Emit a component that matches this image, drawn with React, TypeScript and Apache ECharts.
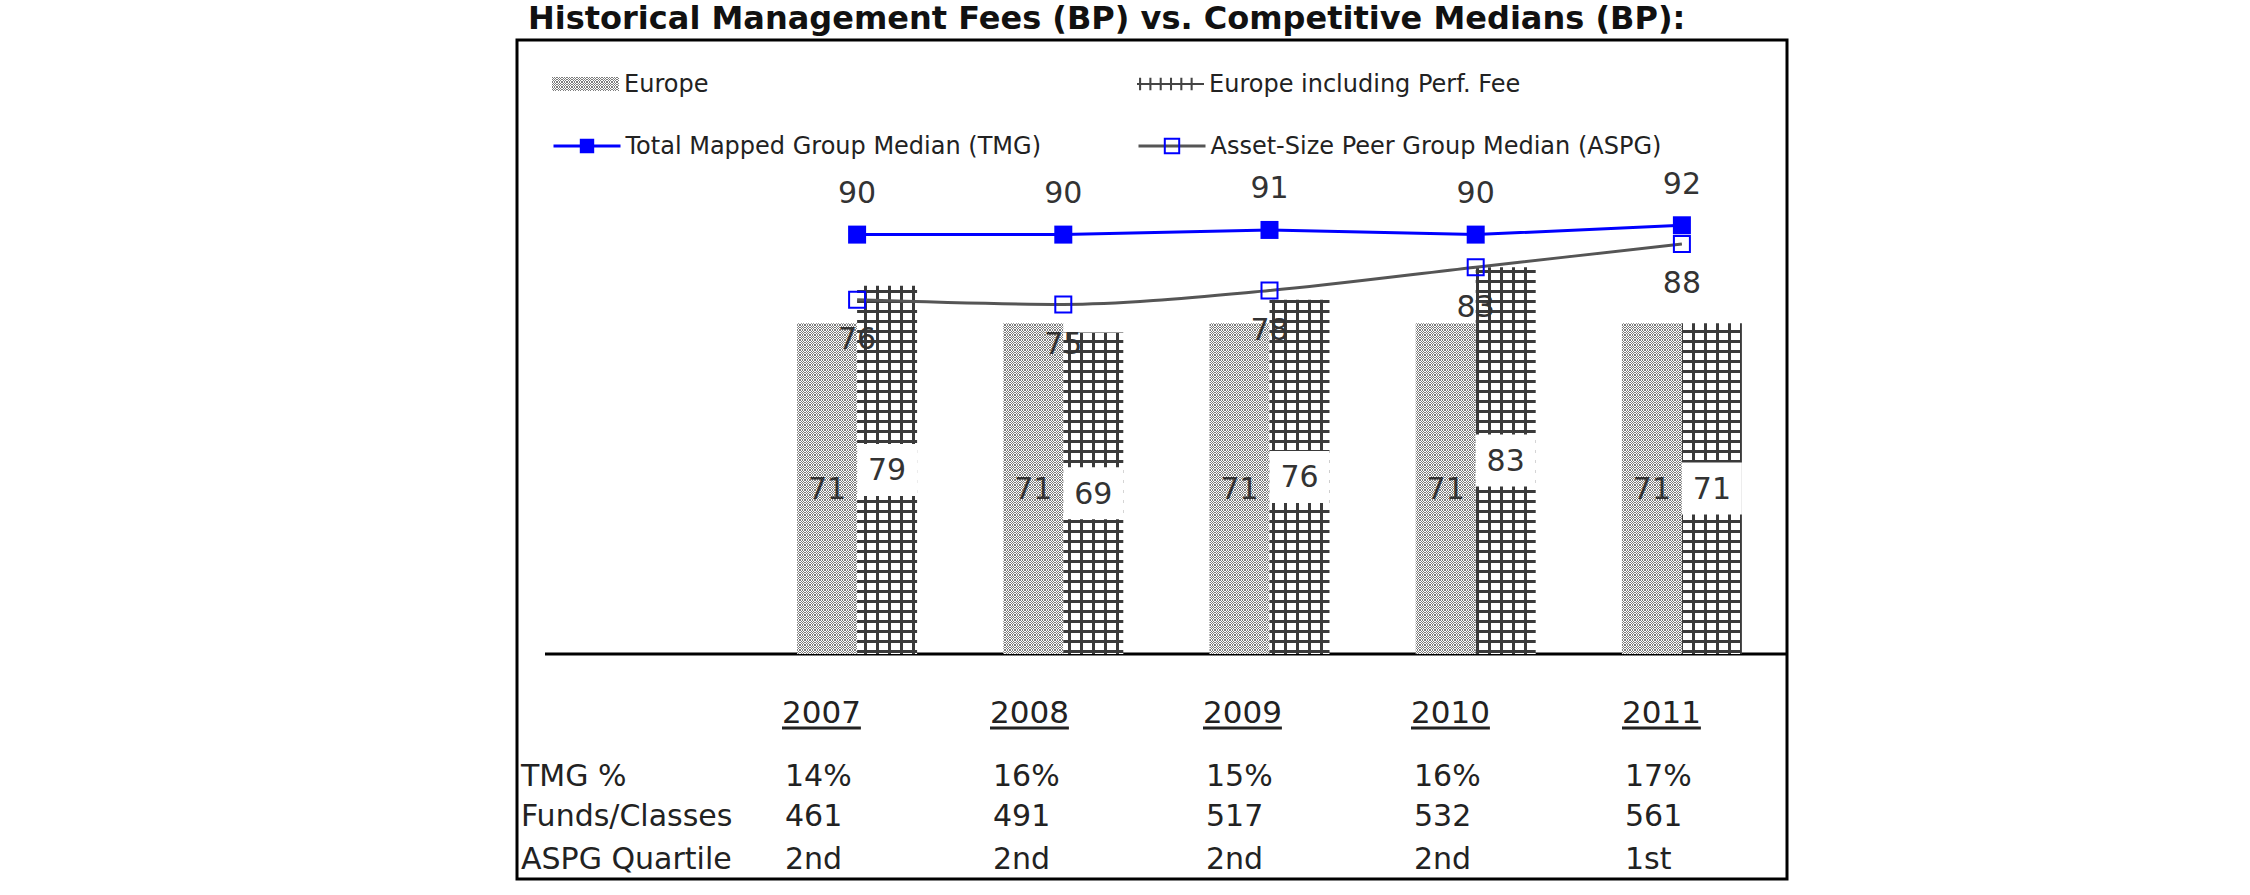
import React, { useEffect, useRef } from 'react';
import * as echarts from 'echarts';

// ---- data ----
const years = ['2007', '2008', '2009', '2010', '2011'];
const europe = [71, 71, 71, 71, 71];
const europePerf = [79, 69, 76, 83, 71];
const tmgMedian = [90, 90, 91, 90, 92];
const aspgMedian = [76, 75, 78, 83, 88];
const rowLabels = ['TMG %', 'Funds/Classes', 'ASPG Quartile'];
const tmgPct = ['14%', '16%', '15%', '16%', '17%'];
const fundsClasses = ['461', '491', '517', '532', '561'];
const aspgQuartile = ['2nd', '2nd', '2nd', '2nd', '1st'];
const titleText = 'Historical Management Fees (BP) vs. Competitive Medians (BP):';
const seriesNames = [
  'Europe',
  'Europe including Perf. Fee',
  'Total Mapped Group Median (TMG)',
  'Asset-Size Peer Group Median (ASPG)',
];

// ---- layout ----
const W = 2250;
const H = 895;
const FONT = "'DejaVu Sans', Verdana, sans-serif";
const tableColX = [782, 990, 1203, 1411, 1622];
const rowLabelX = 521;
const yearY = 712;
const rowY = [775, 815, 858];

function makePattern(w: number, h: number, draw: (ctx: CanvasRenderingContext2D) => void) {
  const c = document.createElement('canvas');
  c.width = w;
  c.height = h;
  const ctx = c.getContext('2d') as CanvasRenderingContext2D;
  draw(ctx);
  return { image: c.toDataURL(), repeat: 'repeat', imageWidth: w, imageHeight: h };
}

function measure(text: string, font: string) {
  const c = document.createElement('canvas');
  const ctx = c.getContext('2d') as CanvasRenderingContext2D;
  ctx.font = font;
  return ctx.measureText(text).width;
}

export default function App() {
  const ref = useRef<HTMLDivElement>(null);
  useEffect(() => {
    if (!ref.current) return;
    const chart = echarts.init(ref.current, null, { renderer: 'svg', width: W, height: H });

    const stipple = makePattern(5, 5, (ctx) => {
      ctx.fillStyle = '#ffffff';
      ctx.fillRect(0, 0, 5, 5);
      ctx.fillStyle = '#7c7c7c';
      for (let x = 0; x < 5; x++)
        for (let y = 0; y < 5; y++) if ((x + y) % 2 === 0) ctx.fillRect(x, y, 1, 1);
    });
    const hatch = makePattern(12, 10, (ctx) => {
      ctx.fillStyle = '#ffffff';
      ctx.fillRect(0, 0, 12, 10);
      ctx.fillStyle = '#3a3a3a';
      ctx.fillRect(0, 0, 3, 10);
      ctx.fillRect(0, 0, 12, 3);
    });

    const hIcon =
      'path://M0 6h65v2H0z M2 1h2v12H2z M12 1h2v12h-2z M22 1h2v12h-2z M32 1h2v12h-2z M42 1h2v12h-2z M52 1h2v12h-2z';

    const legendBase = {
      orient: 'horizontal',
      padding: 0,
      itemWidth: 67,
      itemHeight: 14,
      selectedMode: false,
      textStyle: { fontSize: 24, lineHeight: 24, fontFamily: FONT, color: '#222' },
    };

    const graphics: any[] = [];
    graphics.push({
      type: 'text',
      x: 528,
      y: 18,
      style: {
        text: titleText,
        fontSize: 32,
        fontWeight: 'bold',
        fontFamily: FONT,
        fill: '#111',
        verticalAlign: 'middle',
      },
    });
    graphics.push({
      type: 'rect',
      shape: { x: 517, y: 40, width: 1270, height: 839 },
      style: { fill: 'none', stroke: '#000', lineWidth: 3 },
      silent: true,
    });
    graphics.push({
      type: 'line',
      shape: { x1: 545, y1: 654, x2: 1787, y2: 654 },
      style: { stroke: '#000', lineWidth: 3 },
      silent: true,
    });
    const yearFont = `31px 'DejaVu Sans'`;
    years.forEach((yr, i) => {
      graphics.push({
        type: 'text',
        x: tableColX[i],
        y: yearY,
        style: { text: yr, fontSize: 31, fontFamily: FONT, fill: '#222', verticalAlign: 'middle' },
      });
      const wdt = measure(yr, yearFont);
      graphics.push({
        type: 'line',
        shape: { x1: tableColX[i], y1: yearY + 16, x2: tableColX[i] + wdt, y2: yearY + 16 },
        style: { stroke: '#222', lineWidth: 3 },
      });
    });
    const rows = [tmgPct, fundsClasses, aspgQuartile];
    rowLabels.forEach((lab, r) => {
      graphics.push({
        type: 'text',
        x: rowLabelX,
        y: rowY[r],
        style: { text: lab, fontSize: 30, fontFamily: FONT, fill: '#222', verticalAlign: 'middle' },
      });
      rows[r].forEach((v, i) => {
        graphics.push({
          type: 'text',
          x: tableColX[i] + 3,
          y: rowY[r],
          style: { text: v, fontSize: 30, fontFamily: FONT, fill: '#222', verticalAlign: 'middle' },
        });
      });
    });

    const valueLabel = { fontSize: 30, fontFamily: FONT, color: '#333' };

    chart.setOption({
      animation: false,
      backgroundColor: '#ffffff',
      grid: { left: 754, right: 465, top: 188, bottom: 241, containLabel: false },
      xAxis: {
        type: 'category',
        data: years,
        axisLine: { show: false },
        axisTick: { show: false },
        axisLabel: { show: false },
        splitLine: { show: false },
      },
      yAxis: { type: 'value', min: 0, max: 100, show: false, splitLine: { show: false } },
      legend: [
        { ...legendBase, left: 552, top: 72, data: [{ name: seriesNames[0], icon: 'rect' }] },
        {
          ...legendBase,
          left: 1137,
          top: 72,
          data: [{ name: seriesNames[1], icon: hIcon, itemStyle: { color: '#444' } }],
        },
        {
          ...legendBase,
          left: 552,
          top: 134,
          itemHeight: 18,
          lineStyle: { width: 3 },
          data: [{ name: seriesNames[2] }],
        },
        {
          ...legendBase,
          left: 1137,
          top: 134,
          itemHeight: 18,
          lineStyle: { width: 3 },
          data: [{ name: seriesNames[3] }],
        },
      ],
      series: [
        {
          name: seriesNames[0],
          type: 'bar',
          data: europe,
          barWidth: 60,
          barGap: '0%',
          itemStyle: { color: stipple },
          label: { show: true, position: 'inside', ...valueLabel },
        },
        {
          name: seriesNames[1],
          type: 'bar',
          data: europePerf,
          barWidth: 60,
          barGap: '0%',
          itemStyle: { color: hatch },
          label: {
            show: true,
            position: 'inside',
            ...valueLabel,
            backgroundColor: '#ffffff',
            width: 60,
            align: 'center',
            padding: [11, 0],
            lineHeight: 30,
          },
        },
        {
          name: seriesNames[2],
          type: 'line',
          data: tmgMedian,
          symbol: 'rect',
          symbolSize: 18,
          lineStyle: { color: '#0000ff', width: 3 },
          itemStyle: { color: '#0000ff' },
          label: { show: true, position: 'top', distance: 18, ...valueLabel },
          z: 5,
        },
        {
          name: seriesNames[3],
          type: 'line',
          data: aspgMedian,
          smooth: 0.3,
          symbol: 'rect',
          symbolSize: 16,
          lineStyle: { color: '#555555', width: 3 },
          itemStyle: { color: 'rgba(255,255,255,0)', borderColor: '#0000ff', borderWidth: 2 },
          label: { show: true, position: 'bottom', distance: 15, ...valueLabel },
          z: 4,
        },
      ],
      graphic: graphics,
    });
    return () => chart.dispose();
  }, []);
  return (
    <div
      ref={ref}
      style={{ position: 'fixed', left: 0, top: 0, width: W, height: H, background: '#fff' }}
    />
  );
}
